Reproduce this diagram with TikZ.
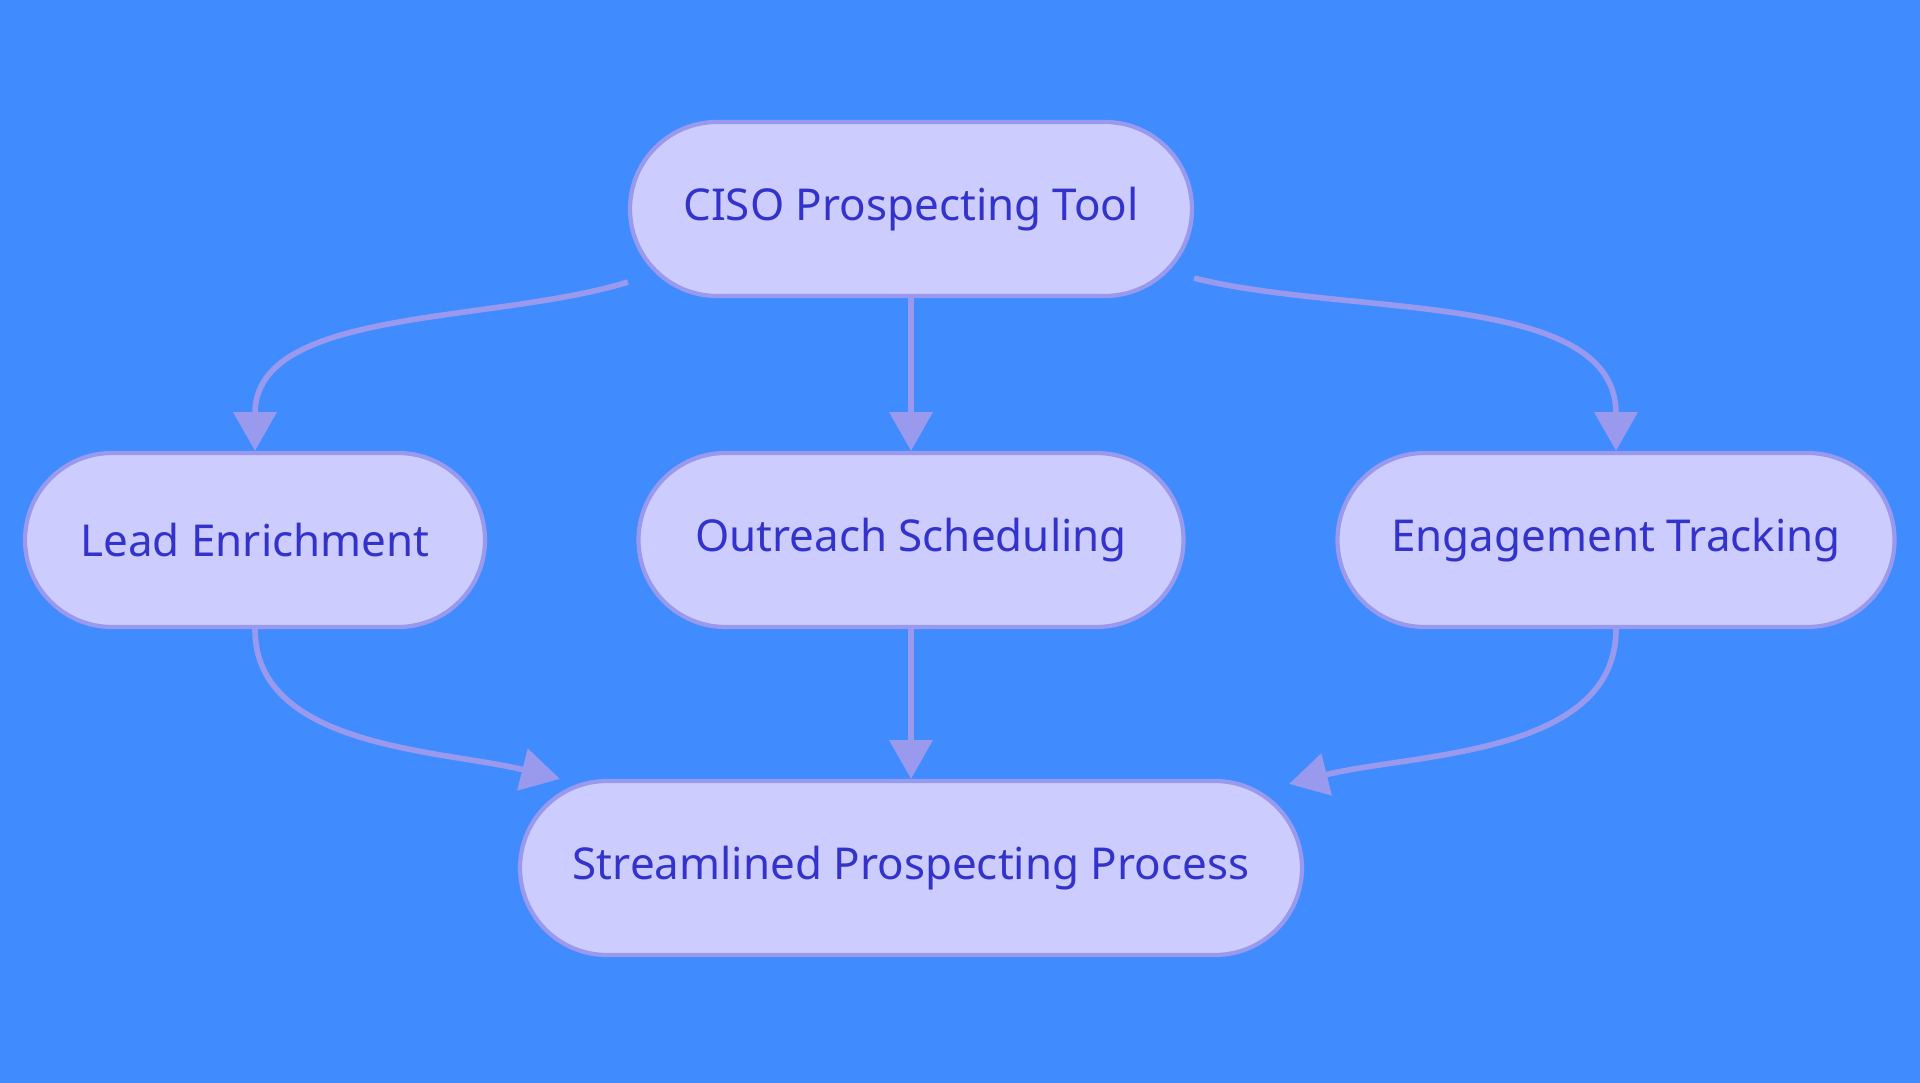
\documentclass[tikz,border=0pt]{standalone}
\usepackage{fontspec}
\setmainfont{Noto Sans}
\usetikzlibrary{arrows.meta,positioning}
\definecolor{bgcolor}{RGB}{64,140,255}
\definecolor{nodefill}{RGB}{204,204,255}
\definecolor{nodeedge}{RGB}{153,153,238}
\definecolor{nodetext}{RGB}{51,51,204}

\begin{document}
\begin{tikzpicture}[
    pill/.style={rectangle, rounded corners=0.87cm, minimum height=1.74cm, draw=nodeedge, line width=1.2pt, fill=nodefill, text=nodetext, font=\fontsize{12.5}{15}\selectfont, text centered},
    arrow/.style={draw=nodeedge, line width=1.6pt, -{Triangle[width=12pt,length=11pt]}}
]
% Background
\fill[bgcolor] (0,0) rectangle (19.2,10.83);
\useasboundingbox (0,0) rectangle (19.2,10.83);

% Top
\node[pill, minimum width=5.62cm] (ciso) at (9.11,8.74) {CISO Prospecting Tool};

% Middle row
\node[pill, minimum width=4.60cm] (lead) at (2.55,5.43) {Lead Enrichment};
\node[pill, minimum width=5.45cm] (outreach) at (9.11,5.43) {Outreach Scheduling};
\node[pill, minimum width=5.57cm] (engage) at (16.16,5.43) {Engagement Tracking};

% Bottom
\node[pill, minimum width=7.82cm] (stream) at (9.11,2.15) {Streamlined Prospecting Process};

% Arrows
\draw[arrow] ([yshift=0.16cm]ciso.south west) to[out=197,in=90,looseness=0.9] (lead.north);
\draw[arrow] (ciso) -- (outreach);
\draw[arrow] ([yshift=0.2cm]ciso.south east) to[out=-14,in=90,looseness=0.9] (engage.north);

\draw[arrow] (lead.south) to[out=-90,in=166,looseness=0.9] ([xshift=0.42cm]stream.north west);
\draw[arrow] (outreach) -- (stream);
\draw[arrow] (engage.south) to[out=-90,in=14,looseness=0.9] ([xshift=-0.15cm,yshift=-0.05cm]stream.north east);

\end{tikzpicture}
\end{document}
